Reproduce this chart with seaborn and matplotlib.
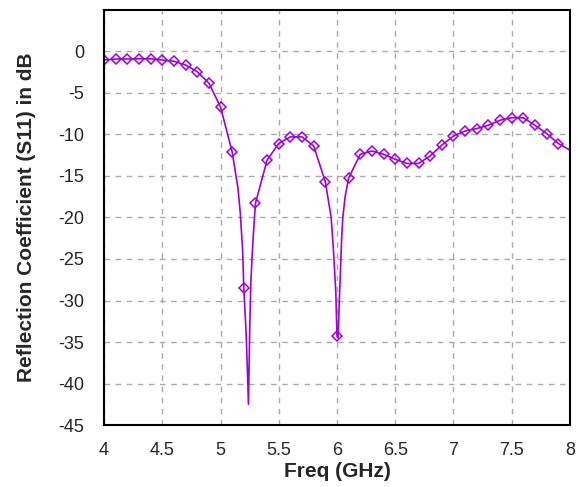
import numpy as np
import pandas as pd
import seaborn as sns
import matplotlib.pyplot as plt

# S11 sampled every 0.1 GHz (the diamond markers)
freq_marks = [4.0, 4.1, 4.2, 4.3, 4.4, 4.5, 4.6, 4.7, 4.8, 4.9,
              5.0, 5.1, 5.2, 5.3, 5.4, 5.5, 5.6, 5.7, 5.8, 5.9,
              6.0, 6.1, 6.2, 6.3, 6.4, 6.5, 6.6, 6.7, 6.8, 6.9,
              7.0, 7.1, 7.2, 7.3, 7.4, 7.5, 7.6, 7.7, 7.8, 7.9, 8.0]
s11_marks = [-1.05, -0.93, -0.93, -0.9, -0.9, -1.05, -1.2, -1.65, -2.46, -3.83,
             -6.7, -12.1, -28.5, -18.3, -13.1, -11.1, -10.3, -10.3, -11.4, -15.7,
             -34.3, -15.25, -12.4, -12.0, -12.4, -13.0, -13.5, -13.5, -12.6, -11.3,
             -10.2, -9.6, -9.3, -8.9, -8.3, -8.0, -8.0, -8.9, -9.9, -11.1, -11.9]

# extra points on the line around the two resonances
freq_dips = [5.15, 5.17, 5.19, 5.22, 5.23, 5.24, 5.25, 5.26, 5.27, 5.28,
             5.95, 5.97, 5.99, 6.01, 6.02, 6.03, 6.04, 6.05, 6.07]
s11_dips = [-16.5, -19.5, -24.0, -34.0, -38.0, -42.5, -34.0, -28.0, -25.0, -22.5,
            -20.0, -24.0, -29.0, -34.5, -30.0, -26.5, -22.5, -20.0, -17.5]

line_df = pd.DataFrame({'freq': freq_marks + freq_dips,
                        's11': s11_marks + s11_dips}).sort_values('freq')
mark_df = pd.DataFrame({'freq': freq_marks[:-1], 's11': s11_marks[:-1]})

color = '#A000D8'

sns.set_style('white')
plt.rcParams['font.family'] = ['Liberation Sans', 'DejaVu Sans']
plt.rcParams['axes.unicode_minus'] = False

fig = plt.figure(figsize=(5.78, 4.87), dpi=100)
ax = fig.add_axes([0.18, 0.127, 0.806, 0.853])

sns.lineplot(data=line_df, x='freq', y='s11', color=color, linewidth=1.2,
             sort=False, ax=ax)
sns.lineplot(data=mark_df, x='freq', y='s11', color=color, linestyle='none',
             marker='D', markersize=5.5, markerfacecolor='none',
             markeredgecolor=color, markeredgewidth=1.1, ax=ax)

ax.set_xlim(4, 8)
ax.set_ylim(-45, 5)
ax.set_xticks(np.arange(4, 8.01, 0.5))
ax.set_xticklabels(['4', '4.5', '5', '5.5', '6', '6.5', '7', '7.5', '8'])
ax.set_yticks(np.arange(-45, 1, 5))
ax.tick_params(length=0, labelsize=13)
ax.tick_params(axis='x', pad=12)
ax.tick_params(axis='y', pad=14)
ax.grid(True, color='#aaaaaa', linestyle=(0, (4, 4)), linewidth=1)
for s in ax.spines.values():
    s.set_color('black')
    s.set_linewidth(1.5)

ax.set_xlabel('Freq (GHz)', fontsize=15, fontweight='bold', labelpad=2)
ax.set_ylabel('Reflection Coefficient (S11) in dB', fontsize=15,
              fontweight='bold', labelpad=16)

fig.savefig('out.png', dpi=100)
